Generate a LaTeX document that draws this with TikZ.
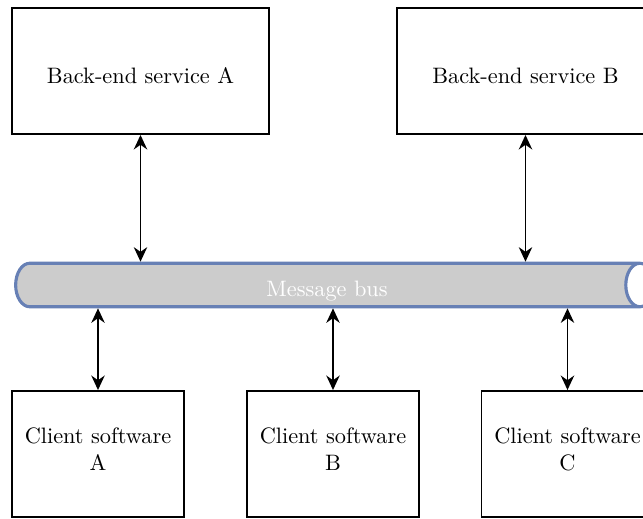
\documentclass[tikz,border=0pt]{standalone}
\usetikzlibrary{shapes.geometric,arrows.meta,positioning}
\definecolor{busblue}{RGB}{103,128,181}
\tikzset{service/.style={rectangle,draw,thick,minimum width=115pt,minimum height=56.5pt,text height=11pt,inner sep=2pt},
         client/.style={rectangle,draw,thick,minimum width=77pt,minimum height=56.5pt,align=center,text depth=4.5pt,inner sep=2pt},
         bus/.style={cylinder,draw=busblue,line width=1.4pt,cylinder uses custom fill,cylinder body fill=black!20,cylinder end fill=white,text=white,minimum height=286pt,minimum width=19.5pt,aspect=0.9,text height=12pt,inner sep=0pt},
         link/.style={{Stealth[length=6.5pt,width=6pt]}-{Stealth[length=6.5pt,width=6pt]},thick}
}
\begin{document}
\begin{tikzpicture}[x=0.448pt,y=-0.448pt]
\useasboundingbox (0,0) rectangle (643,518);
% back-end services
\node [service] (backA) at (140.5,71) {Back-end service A};
\node [service] (backB) at (525.5,71) {Back-end service B};
% message bus
\node [bus] (msgbus) at (327,285) {Message bus};
% clients
\node [client] (clientA) at (98,454) {Client software\\A};
\node [client] (clientB) at (333,454) {Client software\\B};
\node [client] (clientC) at (567.5,454) {Client software\\C};
% links
\draw [link] (backA.south) -- (backA.south |- msgbus.north);
\draw [link] (backB.south) -- (backB.south |- msgbus.north);
\draw [link] (clientA.north) -- (clientA.north |- msgbus.south);
\draw [link] (clientB.north) -- (clientB.north |- msgbus.south);
\draw [link] (clientC.north) -- (clientC.north |- msgbus.south);
\end{tikzpicture}
\end{document}
